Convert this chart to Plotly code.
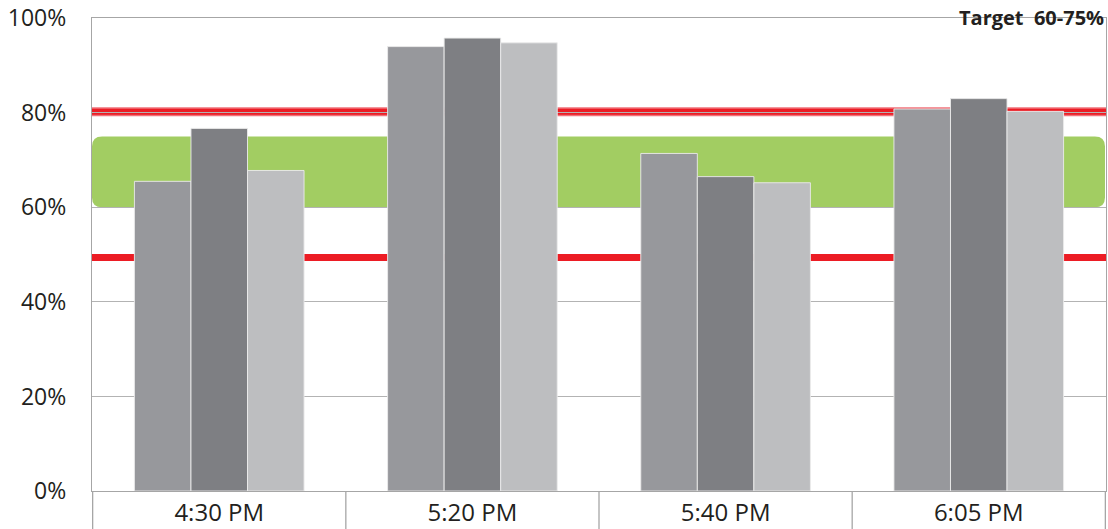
import plotly.graph_objects as go

# Sample times and the three measured series (percent)
categories = ["4:30 PM", "5:20 PM", "5:40 PM", "6:05 PM"]
series_a = [65.5, 94.0, 71.4, 80.8]
series_b = [76.7, 95.8, 66.5, 83.0]
series_c = [67.8, 94.8, 65.2, 80.3]
series_colors = ["#97989c", "#7e7f83", "#bdbec0"]

target_low, target_high = 60, 75
upper_limit = 80.2
lower_limit = 49.4
y_ticks = [0, 20, 40, 60, 80, 100]

fig = go.Figure()
for vals, col in zip([series_a, series_b, series_c], series_colors):
    fig.add_trace(go.Bar(
        x=categories, y=vals,
        marker=dict(color=col, line=dict(color="rgba(235,235,235,0.9)", width=1)),
        hoverinfo="skip",
    ))

# rounded target band (paper x, data y)
rx = 0.010
ry = 2.1
x0, x1 = 0.0, 0.999
y0, y1 = target_low, target_high
band_path = (
    f"M {x0+rx},{y0} L {x1-rx},{y0} Q {x1},{y0} {x1},{y0+ry} "
    f"L {x1},{y1-ry} Q {x1},{y1} {x1-rx},{y1} L {x0+rx},{y1} "
    f"Q {x0},{y1} {x0},{y1-ry} L {x0},{y0+ry} Q {x0},{y0} {x0+rx},{y0} Z"
)
shapes = [
    dict(type="path", path=band_path, xref="paper", yref="y",
         fillcolor="#a2cd62", line=dict(width=0), layer="below"),
    dict(type="line", xref="paper", yref="y", x0=0, x1=1, y0=upper_limit, y1=upper_limit,
         line=dict(color="#f0727a", width=9), layer="below"),
    dict(type="line", xref="paper", yref="y", x0=0, x1=1, y0=upper_limit, y1=upper_limit,
         line=dict(color="#ec1c24", width=6), layer="below"),
    dict(type="line", xref="paper", yref="y", x0=0, x1=1, y0=lower_limit, y1=lower_limit,
         line=dict(color="#ec1c24", width=7), layer="below"),
]
# category divider ticks below the axis
for i in range(len(categories) + 1):
    shapes.append(dict(type="line", xref="x", yref="paper", x0=i - 0.5, x1=i - 0.5,
                       y0=0, y1=-0.09, line=dict(color="#a6a6a6", width=1.3)))

plot_h = 529 - 16 - 37
fig.update_layout(
    width=1108, height=529,
    margin=dict(l=92, r=1, t=16, b=37),
    paper_bgcolor="white", plot_bgcolor="white",
    barmode="group", bargap=0.33, bargroupgap=0,
    showlegend=False,
    shapes=shapes,
    font=dict(family="Open Sans", size=22, color="#231f20"),
    annotations=[dict(
        text="<b>Target  60-75%</b>", xref="paper", yref="paper",
        x=1.0, y=1 + 16 / plot_h, xanchor="right", yanchor="top",
        showarrow=False, font=dict(size=20, color="#231f20"),
    )],
)
fig.update_xaxes(
    type="category", categoryorder="array", categoryarray=categories,
    showline=True, mirror=True, linecolor="#a6a6a6", linewidth=1.3,
    ticks="", showgrid=False, tickfont=dict(size=24),
)
fig.update_yaxes(
    range=[0, 100.05], tickvals=y_ticks, ticktext=[f"{v}%" for v in y_ticks],
    showline=True, mirror=True, linecolor="#a6a6a6", linewidth=1.3,
    gridcolor="#b3b3b3", gridwidth=1.3, zeroline=False, ticks="",
    tickfont=dict(size=23), ticklabelstandoff=20, ticklabeloverflow="allow",
)

fig.write_html("out.html", config={"displayModeBar": False})
